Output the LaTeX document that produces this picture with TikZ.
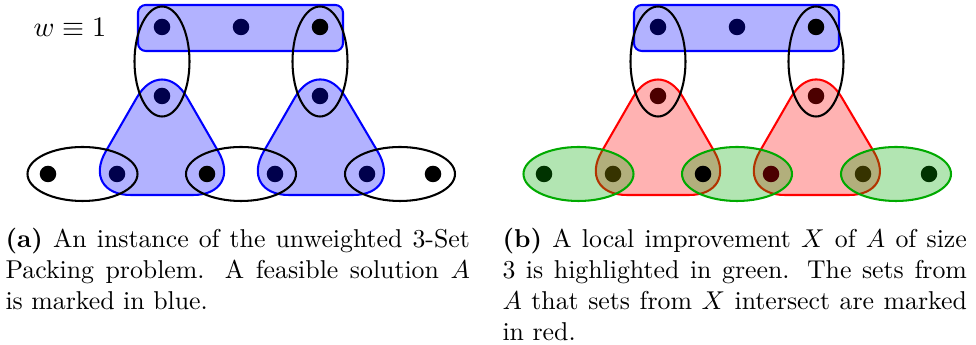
\documentclass[tikz,border=0pt]{standalone}
\usepackage{amsmath,amssymb}
\usepackage{xcolor}
\usetikzlibrary{calc}

\definecolor{setgreen}{RGB}{0,170,0}
\colorlet{dotblue}{blue!30!black}
\colorlet{dotred}{red!30!black}
\colorlet{dotgreen}{setgreen!30!black}
\definecolor{dotolive}{RGB}{54,51,0}

\begin{document}
\begin{tikzpicture}[
    x=0.3876pt, y=-0.3876pt,
    dot/.style={circle, fill=#1, inner sep=0pt, minimum size=6.4pt},
    dot/.default=black,
    aset/.style={draw=blue, fill=blue, fill opacity=0.3, thick},
    redset/.style={draw=red, fill=red, fill opacity=0.3, thick},
    xset/.style={draw=setgreen, fill=setgreen, fill opacity=0.3, thick},
    plainset/.style={draw=black, thick},
    tri/.style={rounded corners=19.5pt},
    caption/.style={anchor=north west, inner sep=0pt, text width=180pt, align=justify}
]
\useasboundingbox (0,0) rectangle (976,345);

% (a) the instance with solution A
\coordinate (t1) at (162,27);
\coordinate (t2) at (241,27);
\coordinate (t3) at (320,27);
\coordinate (m1) at (162,96);
\coordinate (m2) at (320,96);
\coordinate (b1) at (48,174);
\coordinate (b2) at (117,174);
\coordinate (b3) at (207,174);
\coordinate (b4) at (275,174);
\coordinate (b5) at (367,174);
\coordinate (b6) at (433,174);

\draw[aset, rounded corners=3pt] ($(t1)+(-24,-22)$) rectangle ($(t3)+(23,24)$);
\draw[aset, tri] ($(m1)+(0,-42)$) -- ($(b2)+(-36.4,21)$) -- ($(b3)+(36.4,21)$) -- cycle;
\draw[aset, tri] ($(m2)+(0,-42)$) -- ($(b4)+(-36.4,21)$) -- ($(b5)+(36.4,21)$) -- cycle;
\draw[plainset] ($(t1)!0.5!(m1)$) ellipse [x radius=27.5, y radius=55];
\draw[plainset] ($(t3)!0.5!(m2)$) ellipse [x radius=27.5, y radius=55];
\draw[plainset] ($(b1)!0.5!(b2)$) ellipse [x radius=55, y radius=27];
\draw[plainset] ($(b3)!0.5!(b4)$) ellipse [x radius=55, y radius=27];
\draw[plainset] ($(b5)!0.5!(b6)$) ellipse [x radius=55, y radius=27];

\node[dot=dotblue] (at1) at (t1) {};
\node[dot=dotblue] (at2) at (t2) {};
\node[dot] (at3) at (t3) {};
\node[dot=dotblue] (am1) at (m1) {};
\node[dot=dotblue] (am2) at (m2) {};
\node[dot] (ab1) at (b1) {};
\node[dot=dotblue] (ab2) at (b2) {};
\node[dot] (ab3) at (b3) {};
\node[dot=dotblue] (ab4) at (b4) {};
\node[dot=dotblue] (ab5) at (b5) {};
\node[dot] (ab6) at (b6) {};

\node[anchor=base west, inner sep=0pt, font=\fontsize{11}{13}\selectfont] (weight) at (33,37) {$w\equiv 1$};

% (b) the local improvement X
\begin{scope}[shift={(496,0)}]
\coordinate (s1) at (162,27);
\coordinate (s2) at (241,27);
\coordinate (s3) at (320,27);
\coordinate (n1) at (162,96);
\coordinate (n2) at (320,96);
\coordinate (c1) at (48,174);
\coordinate (c2) at (117,174);
\coordinate (c3) at (207,174);
\coordinate (c4) at (275,174);
\coordinate (c5) at (367,174);
\coordinate (c6) at (433,174);

\draw[aset, rounded corners=3pt] ($(s1)+(-24,-22)$) rectangle ($(s3)+(23,24)$);
\draw[redset, tri] ($(n1)+(0,-42)$) -- ($(c2)+(-36.4,21)$) -- ($(c3)+(36.4,21)$) -- cycle;
\draw[redset, tri] ($(n2)+(0,-42)$) -- ($(c4)+(-36.4,21)$) -- ($(c5)+(36.4,21)$) -- cycle;
\draw[xset] ($(c1)!0.5!(c2)$) ellipse [x radius=55, y radius=27];
\draw[xset] ($(c3)!0.5!(c4)$) ellipse [x radius=55, y radius=27];
\draw[xset] ($(c5)!0.5!(c6)$) ellipse [x radius=55, y radius=27];
\draw[plainset] ($(s1)!0.5!(n1)$) ellipse [x radius=27.5, y radius=55];
\draw[plainset] ($(s3)!0.5!(n2)$) ellipse [x radius=27.5, y radius=55];

\node[dot=dotblue] (bt1) at (s1) {};
\node[dot=dotblue] (bt2) at (s2) {};
\node[dot] (bt3) at (s3) {};
\node[dot=dotred] (bm1) at (n1) {};
\node[dot=dotred] (bm2) at (n2) {};
\node[dot=dotgreen] (bb1) at (c1) {};
\node[dot=dotolive] (bb2) at (c2) {};
\node[dot] (bb3) at (c3) {};
\node[dot=dotred] (bb4) at (c4) {};
\node[dot=dotolive] (bb5) at (c5) {};
\node[dot=dotgreen] (bb6) at (c6) {};
\end{scope}

% captions
\node[caption] (capa) at (5,228) {\textbf{(a)} An instance of the unweighted 3-Set\linebreak Packing problem. A feasible solution $A$\linebreak is marked in blue.};
\node[caption] (capb) at (502,228) {\textbf{(b)} A local improvement $X$ of $A$ of size\linebreak 3 is highlighted in green. The sets from\linebreak $A$ that sets from $X$ intersect are marked\linebreak in red.};
\end{tikzpicture}
\end{document}
